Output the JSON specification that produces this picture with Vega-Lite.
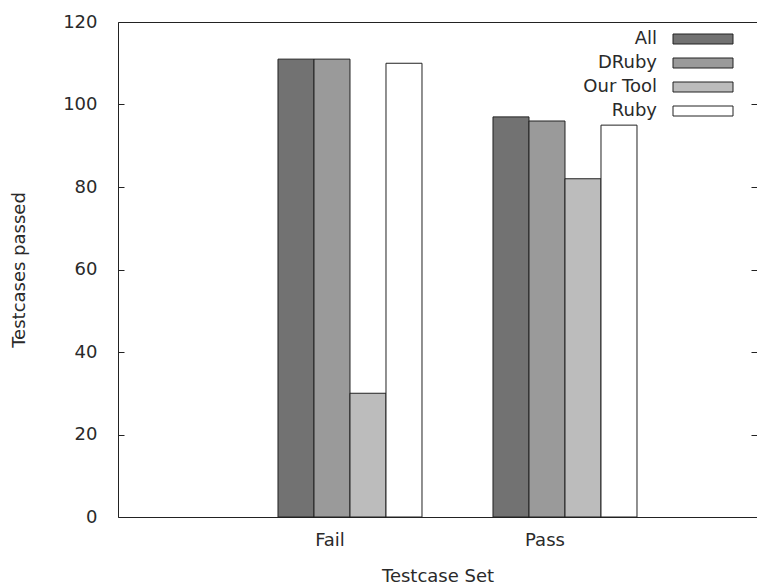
{
  "$schema": "https://vega.github.io/schema/vega-lite/v6.json",
  "width": 639,
  "height": 495,
  "autosize": {"type": "none"},
  "padding": {"left": 118, "top": 22, "right": 0, "bottom": 70},
  "background": "white",
  "config": {
    "view": {"stroke": null},
    "font": "DejaVu Sans",
    "axis": {"labelFont": "DejaVu Sans", "titleFont": "DejaVu Sans", "labelFontSize": 18, "titleFontSize": 18, "labelColor": "#2a2a2a", "titleColor": "#2a2a2a", "titleFontWeight": "normal", "grid": false, "domainColor": "#222", "tickColor": "#222"}
  },
  "data": {
    "values": [
      {"set": "Fail", "tool": "All", "value": 111},
      {"set": "Fail", "tool": "DRuby", "value": 111},
      {"set": "Fail", "tool": "Our Tool", "value": 30},
      {"set": "Fail", "tool": "Ruby", "value": 110},
      {"set": "Pass", "tool": "All", "value": 97},
      {"set": "Pass", "tool": "DRuby", "value": 96},
      {"set": "Pass", "tool": "Our Tool", "value": 82},
      {"set": "Pass", "tool": "Ruby", "value": 95}
    ]
  },
  "layer": [
    {
      "mark": {"type": "bar", "stroke": "#222", "strokeWidth": 1},
      "encoding": {
        "x": {
          "field": "set", "type": "nominal",
          "scale": {"paddingInner": 0.3302, "paddingOuter": 0.65116, "align": 0.5714},
          "axis": {"orient": "bottom", "title": "Testcase Set", "labelAngle": 0, "ticks": false, "domain": true, "labelOffset": -20, "labelPadding": 14, "titleX": 319.5, "titleY": 59, "titleBaseline": "middle", "titleAlign": "center"}
        },
        "xOffset": {"field": "tool", "type": "nominal", "scale": {"paddingInner": 0, "paddingOuter": 0}},
        "y": {
          "field": "value", "type": "quantitative",
          "scale": {"domain": [0, 120], "nice": false},
          "axis": {"orient": "left", "title": "Testcases passed", "values": [0, 20, 40, 60, 80, 100, 120], "tickSize": -6, "labelPadding": 27, "titleX": -99, "titleY": 247.5, "titleAngle": -90, "titleBaseline": "middle", "titleAlign": "center"}
        },
        "fill": {
          "field": "tool", "type": "nominal",
          "scale": {"domain": ["All", "DRuby", "Our Tool", "Ruby"], "range": ["#727272", "#9a9a9a", "#bcbcbc", "#ffffff"]},
          "legend": {"orient": "none", "legendX": 576, "legendY": 8, "title": null, "padding": 0, "symbolType": "M-30,-5H30V5H-30Z", "symbolSize": 4, "symbolStrokeColor": "#222", "symbolStrokeWidth": 1, "symbolOpacity": 1, "labelAlign": "right", "labelOffset": -55, "labelFontSize": 18, "labelFont": "DejaVu Sans", "labelColor": "#2a2a2a", "rowPadding": 6}
        }
      }
    },
    {
      "mark": {"type": "bar", "opacity": 0},
      "encoding": {
        "x": {
          "field": "set", "type": "nominal",
          "scale": {"paddingInner": 0.3302, "paddingOuter": 0.65116, "align": 0.5714},
          "axis": {"orient": "top", "title": null, "labels": false, "ticks": false, "domain": true}
        },
        "xOffset": {"field": "tool", "type": "nominal", "scale": {"paddingInner": 0, "paddingOuter": 0}},
        "y": {
          "field": "value", "type": "quantitative",
          "scale": {"domain": [0, 120], "nice": false},
          "axis": {"orient": "right", "title": null, "labels": false, "domain": false, "values": [20, 40, 60, 80, 100], "tickSize": -6}
        }
      }
    }
  ],
  "resolve": {"axis": {"x": "independent", "y": "independent"}}
}
